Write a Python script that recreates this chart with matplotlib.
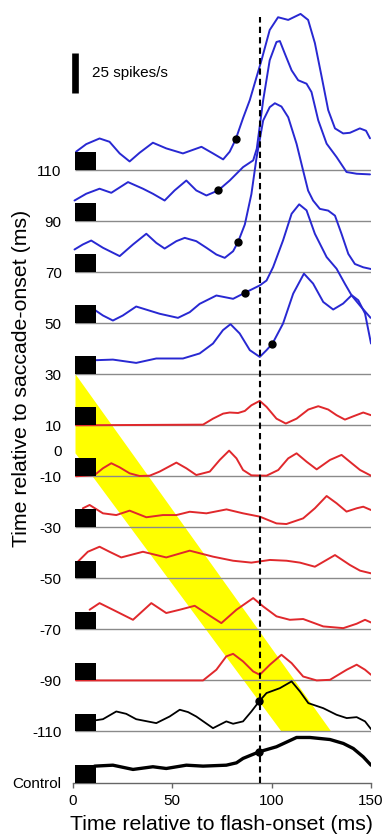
"""
Flash responses sorted by saccade timing: stacked firing-rate traces
with the saccade window shaded in yellow.
"""

import matplotlib
matplotlib.use("Agg")
import matplotlib.pyplot as plt
from matplotlib.patches import Rectangle

plt.rcParams['font.family'] = ['Liberation Sans', 'DejaVu Sans']

# Trial rows: flash time relative to saccade-onset (ms); control sits at -130
baselines = [110, 90, 70, 50, 30, 10, -10, -30, -50, -70, -90, -110, -130]
tick_values = [110, 90, 70, 50, 30, 10, 0, -10, -30, -50, -70, -90, -110, -130]
tick_labels = ['110', '90', '70', '50', '30', '10', '0', '-10', '-30', '-50',
               '-70', '-90', '-110', 'Control']
x_ticks = [0, 50, 100, 150]

# Firing rate (spikes/s) vs time after flash (ms), one pair per row
t_110 = [1.8, 6.9, 13.6, 18.6, 23.7, 28.7, 33.7, 40.4, 47.1, 55.5, 64.8, 70.6, 75.7, 79.0,
         82.0, 85.7, 89.1, 95.0, 99.1, 103.3, 108.4, 114.6, 118.4, 121.8, 125.2, 128.5,
         131.9, 136.0, 139.4, 144.4, 147.5, 149.5]
r_110 = [11.7, 16.5, 20.1, 18.0, 10.6, 5.5, 11.0, 17.4, 13.8, 10.6, 14.8, 10.6, 6.8, 11.7,
         19.5, 33.0, 44.5, 69.9, 89.0, 97.1, 95.4, 99.2, 95.4, 80.7, 59.3, 38.1,
         26.5, 23.3, 23.7, 26.5, 25.0, 20.2]

t_90 = [1.0, 6.9, 13.6, 19.5, 27.9, 35.4, 40.4, 46.3, 51.3, 57.2, 62.2, 67.3, 73.2, 79.0,
        85.7, 90.8, 92.6, 95.8, 99.1, 102.5, 104.2, 106.7, 110.1, 113.4, 117.6, 120.1,
        123.5, 127.7, 132.7, 137.7, 142.8, 149.5]
r_90 = [13.1, 17.4, 20.6, 18.0, 24.8, 20.6, 17.4, 13.1, 19.5, 25.8, 19.5, 16.3, 19.5, 25.8,
        34.3, 38.6, 46.0, 76.7, 102.2, 113.8, 114.4, 106.4, 95.8, 89.5, 87.3, 82.0,
        64.0, 49.2, 40.7, 31.2, 30.1, 29.7]

t_70 = [1.0, 5.2, 9.4, 15.3, 23.7, 30.4, 37.1, 42.1, 46.3, 52.2, 56.4, 62.2, 67.3, 72.3,
        76.5, 80.7, 83.2, 86.6, 89.9, 92.4, 95.8, 99.1, 101.7, 105.0, 108.4, 112.6,
        115.9, 118.4, 120.9, 124.3, 128.5, 131.9, 135.2, 138.6, 141.9, 146.1, 150.0]
r_70 = [14.4, 17.6, 20.1, 15.5, 10.2, 17.6, 24.4, 18.6, 15.0, 19.7, 21.8, 19.7, 15.5, 11.2,
        9.1, 13.3, 19.2, 30.3, 49.6, 72.0, 96.3, 104.8, 107.3, 105.2, 98.4, 81.5,
        64.5, 51.8, 45.5, 40.2, 39.1, 35.9, 24.3, 11.6, 5.2, 3.1, 2.0]

t_50 = [1.8, 11.1, 15.3, 20.3, 25.3, 32.0, 43.8, 53.0, 58.9, 63.9, 72.3, 80.7, 86.6, 94.1,
        97.5, 100.8, 105.8, 110.1, 113.9, 117.6, 121.8, 127.7, 132.7, 136.9, 140.3,
        144.4, 149.8]
r_50 = [9.2, 8.5, 4.9, 1.7, 4.9, 10.6, 6.0, 3.4, 7.0, 12.3, 17.6, 15.5, 19.3, 24.0,
        27.1, 35.6, 52.6, 69.5, 75.5, 71.7, 56.8, 42.0, 34.6, 25.0, 17.6,
        11.3, 3.4]

t_30 = [1.8, 11.1, 20.3, 32.0, 42.1, 55.5, 63.9, 70.6, 75.6, 79.4, 84.0, 89.1, 94.1, 97.5,
        100.5, 105.8, 110.9, 116.3, 120.9, 126.0, 131.0, 136.0, 140.3, 143.6, 147.0, 150.0]
r_30 = [8.9, 8.9, 9.3, 7.2, 10.0, 10.0, 13.2, 19.5, 28.0, 31.8, 25.9, 15.3, 11.0, 15.3,
        19.5, 32.2, 51.2, 63.9, 57.6, 45.9, 41.1, 44.9, 50.2, 47.0, 38.6, 19.5]

t_10 = [1.8, 65.6, 70.6, 75.7, 79.0, 83.2, 86.6, 89.9, 94.1, 97.5, 102.5, 107.2, 112.6,
        118.5, 123.5, 128.5, 132.7, 136.9, 141.1, 146.1, 150.0]
r_10 = [0.0, 0.4, 4.2, 7.4, 8.1, 7.8, 9.1, 12.7, 15.5, 11.7, 4.2, 1.1, 4.2,
        10.0, 12.1, 10.0, 6.4, 3.6, 5.7, 8.1, 6.4]

t_m10 = [1.8, 11.1, 15.3, 19.5, 23.7, 28.7, 33.7, 38.8, 43.8, 52.2, 57.2, 62.2, 69.0, 74.0,
         78.7, 82.4, 85.7, 89.9, 97.5, 103.4, 108.4, 112.6, 117.6, 122.7, 129.4, 135.2,
         140.3, 144.5, 150.0]
r_m10 = [0.0, 0.8, 5.1, 8.3, 5.7, 1.9, 0.2, 0.4, 3.0, 8.7, 5.1, 0.8, 3.0, 10.4,
         16.3, 11.4, 4.0, 0.6, 0.4, 4.0, 11.4, 14.6, 9.3, 4.4, 10.4, 13.6,
         8.3, 4.0, 0.4]

t_m30 = [5.2, 8.6, 15.3, 22.0, 28.7, 37.1, 45.4, 52.2, 58.9, 67.3, 77.4, 85.7, 94.1, 102.5,
         107.5, 115.9, 121.8, 127.7, 132.7, 137.7, 142.8, 146.1, 150.0]
r_m30 = [12.1, 14.2, 8.9, 7.8, 10.6, 6.4, 7.8, 7.8, 9.9, 8.9, 11.4, 8.9, 6.8, 2.5,
         2.1, 5.7, 12.1, 19.9, 15.3, 10.0, 12.1, 13.1, 11.0]

t_m50 = [2.7, 7.7, 13.6, 18.6, 24.5, 35.4, 47.1, 58.9, 70.6, 80.7, 89.9, 99.2, 107.6, 114.3,
         121.8, 131.9, 139.4, 144.5, 150.0]
r_m50 = [10.6, 16.9, 20.1, 16.9, 13.3, 16.9, 13.3, 17.6, 13.8, 11.2, 10.0, 11.7, 11.2, 10.0,
         7.4, 14.8, 8.5, 4.9, 3.2]

t_m70 = [8.6, 13.6, 20.3, 30.4, 39.6, 47.1, 53.9, 61.4, 69.0, 74.8, 82.4, 90.8, 95.8, 102.5,
         109.2, 115.9, 126.0, 136.1, 142.8, 147.0, 150.0]
r_m70 = [12.5, 16.7, 12.5, 6.1, 16.7, 10.4, 12.5, 15.0, 8.7, 4.0, 12.5, 19.9, 14.6, 8.3,
         6.1, 6.6, 1.9, 0.8, 3.6, 6.1, 4.4]

t_m90 = [1.8, 65.6, 72.3, 77.3, 80.7, 85.7, 90.8, 94.1, 99.2, 105.0, 110.1, 115.9, 122.7,
         129.4, 137.8, 142.8, 147.0, 150.0]
r_m90 = [0.0, 0.0, 6.8, 15.3, 16.9, 12.1, 5.7, 3.6, 10.0, 16.3, 11.0, 2.5, 0.0,
         0.4, 6.8, 10.0, 6.8, 3.6]

t_m110 = [11.1, 15.3, 22.0, 27.0, 32.0, 42.1, 48.8, 53.9, 58.1, 62.2, 70.6, 77.3, 80.7, 85.7,
          89.9, 93.8, 97.5, 104.2, 110.1, 114.3, 118.5, 126.0, 132.7, 137.8, 142.8, 147.0,
          150.0]
r_m110 = [7.0, 7.8, 12.7, 11.2, 7.8, 5.3, 9.5, 13.8, 12.3, 9.5, 2.1, 6.4, 4.9, 6.4,
          12.7, 19.1, 24.4, 27.5, 31.8, 25.4, 18.0, 14.8, 10.6, 8.5, 9.1, 6.4,
          1.5]

t_ctrl = [11.1, 20.3, 30.4, 40.4, 47.1, 57.2, 65.6, 77.3, 82.4, 85.7, 93.8, 102.5, 112.6,
          119.3, 129.4, 136.1, 141.1, 146.1, 150.0]
r_ctrl = [10.4, 11.0, 8.3, 10.0, 8.9, 11.0, 10.4, 11.0, 12.5, 15.3, 19.5, 22.7, 28.6,
          28.6, 27.3, 24.8, 21.6, 16.3, 11.0]

# Response-onset markers (time, rate) for the rows that have one
dot_rows = [110, 90, 70, 50, 30, -110, -130]
dot_t = [82.0, 73.2, 83.2, 86.6, 100.5, 93.8, 93.8]
dot_r = [19.5, 19.5, 19.2, 19.3, 19.5, 19.1, 19.5]

# Saccade window (yellow band) and reference latency line
band_t = [1.5, 130, 105, 1.5]
band_y = [30, -110, -110, -1]
latency = 94
scalebar_rate = 25

# 1 spike/s in y-axis units
k = 0.617

curves = [(t_110, r_110), (t_90, r_90), (t_70, r_70), (t_50, r_50), (t_30, r_30),
          (t_10, r_10), (t_m10, r_m10), (t_m30, r_m30), (t_m50, r_m50),
          (t_m70, r_m70), (t_m90, r_m90), (t_m110, r_m110), (t_ctrl, r_ctrl)]
blue = '#2828d2'
red = '#e0282c'
colors = [blue] * 5 + [red] * 6 + ['black', 'black']
widths = [1.4] * 11 + [1.3, 2.4]

fig = plt.figure(figsize=(3.84, 8.36), dpi=100)
ax = fig.add_axes([72.5 / 384, 1 - 782.5 / 836, (371 - 72.5) / 384, (782.5 - 4.25) / 836])
ax.set_xlim(0, 150)
ax.set_ylim(-130, 175)

# Saccade window
ax.fill(band_t, band_y, color='#ffff00', lw=0, zorder=1)

# Zero-rate baselines
ax.hlines(baselines[:-1], 1.5, 150, color='#8a8a8a', lw=1.0, zorder=2)

for (t, r), b, c, w in zip(curves, baselines, colors, widths):
    ax.plot(t, [b + v * k for v in r], color=c, lw=w, zorder=3,
            solid_joinstyle='round', solid_capstyle='round')

# Flash markers
for b in baselines:
    ax.add_patch(Rectangle((1.5, b), 10.1, 7, facecolor='black', edgecolor='none', zorder=5))

ax.plot(dot_t, [b + v * k for b, v in zip(dot_rows, dot_r)], 'o', color='black',
        ms=5, zorder=6)

ax.vlines(latency, -130, 170, colors='black', linestyles=(0, (3, 2)), lw=1.5, zorder=4)

# Scale bar
ax.plot([1.2, 1.2], [140.3, 140.3 + scalebar_rate * k], color='black', lw=4.8,
        solid_capstyle='butt', clip_on=False, zorder=6)
ax.text(9.7, 148, f'{scalebar_rate} spikes/s', fontsize=11, va='center', ha='left')

for side in ['top', 'right', 'left']:
    ax.spines[side].set_visible(False)
ax.spines['bottom'].set_color('#666666')
ax.spines['bottom'].set_linewidth(1.0)

ax.set_yticks(tick_values)
ax.set_yticklabels(tick_labels)
ax.tick_params(axis='y', length=0, pad=7.8, labelsize=11)
ax.set_xticks(x_ticks)
ax.tick_params(axis='x', length=3.6, width=1.0, color='#666666', pad=5, labelsize=11,
               direction='out')

ax.set_xlabel('Time relative to flash-onset (ms)', fontsize=15.3, labelpad=5)
fig.text(22 / 384, 1 - 378 / 836, 'Time relative to saccade-onset (ms)', rotation=90,
         fontsize=15.3, ha='center', va='center')

fig.savefig('out.png', dpi=100)
